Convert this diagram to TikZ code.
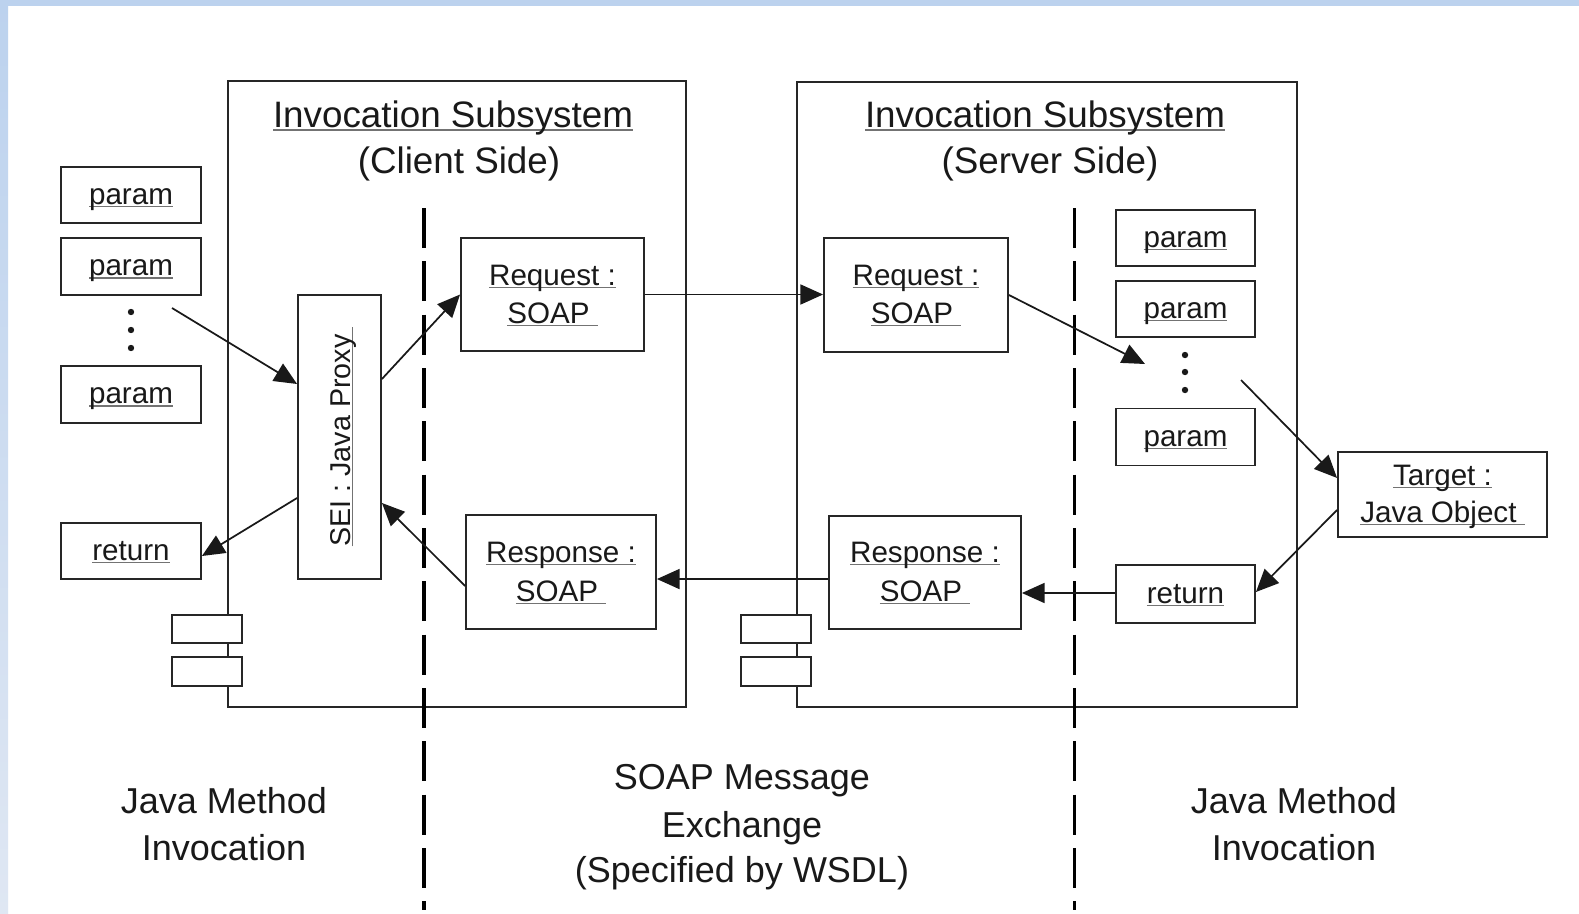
\documentclass[tikz,border=0pt]{standalone}
\usepackage{fontspec}
\setmainfont{Liberation Sans}
\usetikzlibrary{arrows.meta,calc}
\definecolor{bandtop}{HTML}{BCD2EE}
\definecolor{bandbot}{HTML}{DFE7F3}
\newsavebox\ulbox
\newcommand\ulx[1]{\sbox\ulbox{#1}\rlap{\color{black!55}\rule[-0.11em]{\wd\ulbox}{0.05em}}\usebox\ulbox}
\begin{document}
\begin{tikzpicture}[x=0.75pt,y=-0.75pt,
  box/.style={draw=black!85, line width=1.4pt, fill=white, inner sep=0pt},
  sz/.style 2 args={minimum width=#1*0.75pt, minimum height=#2*0.75pt},
  small/.style={font=\fontsize{22.2}{26}\selectfont, text=black!90, anchor=base, inner sep=0pt},
  big/.style={font=\fontsize{27.6}{32}\selectfont, text=black!90, anchor=base, inner sep=0pt},
  lab/.style={font=\fontsize{27}{32}\selectfont, text=black!90, anchor=base, inner sep=0pt},
  arr/.style={draw=black!90, line width=1.3pt, -{Triangle[length=17pt,width=15pt]}},
  sepline/.style={draw=black, line width=2.7pt, dash pattern=on 30pt off 10pt},
  comp/.style={draw=black!85, line width=1.4pt, fill=white}]
% background
\useasboundingbox (0,0) rectangle (1579,914);
\fill[white] (0,0) rectangle (1579,914);
\fill[bandtop] (0,0) rectangle (1579,6);
\shade[top color=bandtop, bottom color=bandbot] (0,0) rectangle (8,914);
% subsystem boxes
\node[box, sz={458}{626}] (cli) at (457,394) {};
\node[box, sz={500}{625}] (srv) at (1047,394.5) {};
% dashed separators
\coordinate (dA1) at (424,208); \coordinate (dA2) at (424,910);
\coordinate (dB1) at (1074.5,208); \coordinate (dB2) at (1074.5,910);
\draw[sepline] (dA1) -- (dA2);
\draw[sepline] (dB1) -- (dB2);
% component icons
\draw[comp] (172,615) rectangle (242,643);
\draw[comp] (172,657) rectangle (242,686);
\draw[comp] (741,615) rectangle (811,643);
\draw[comp] (741,657) rectangle (811,686);
% titles
\node[big] at (453,127) {\ulx{Invocation Subsystem}};
\node[big] at (459,173) {(Client Side)};
\node[big] at (1045,127) {\ulx{Invocation Subsystem}};
\node[big] at (1050,173) {(Server Side)};
% left params
\node[box, sz={140}{56}] (p1) at (131,195) {};
\node[box, sz={140}{57}] (p2) at (131,266.5) {};
\node[box, sz={140}{57}] (p3) at (131,394.5) {};
\node[box, sz={140}{56}] (retL) at (131,551) {};
\node[small] at (131,204) {\ulx{param}};
\node[small] at (131,275.5) {\ulx{param}};
\node[small] at (131,403.5) {\ulx{param}};
\node[small] at (131,560) {\ulx{return}};
\fill[black!90] (131,312) circle[radius=2.4pt] (131,330) circle[radius=2.4pt] (131,348) circle[radius=2.4pt];
% SEI proxy
\node[box, sz={83}{284}] (sei) at (339.5,437) {};
\node[small, rotate=90, font=\fontsize{21.5}{26}\selectfont] at (350,436.5) {\ulx{SEI : Java Proxy\ }};
% client messages
\node[box, sz={183}{113}] (reqC) at (552.5,294.5) {};
\node[small] at (552.5,285) {\ulx{Request :}};
\node[small] at (552.5,323) {\ulx{SOAP\ }};
\node[box, sz={190}{114}] (resC) at (561,572) {};
\node[small] at (561,562) {\ulx{Response :}};
\node[small] at (561,601) {\ulx{SOAP\ }};
% server messages
\node[box, sz={184}{114}] (reqS) at (916,295) {};
\node[small] at (916,285) {\ulx{Request :}};
\node[small] at (916,323) {\ulx{SOAP\ }};
\node[box, sz={192}{113}] (resS) at (925,572.5) {};
\node[small] at (925,562) {\ulx{Response :}};
\node[small] at (925,601) {\ulx{SOAP\ }};
% right params
\node[box, sz={139}{56}] (q1) at (1185.5,238) {};
\node[box, sz={139}{56}] (q2) at (1185.5,309) {};
\node[box, sz={139}{57}] (q3) at (1185.5,437) {};
\node[box, sz={139}{58}] (retR) at (1185.5,594) {};
\node[small] at (1185.5,247) {\ulx{param}};
\node[small] at (1185.5,318) {\ulx{param}};
\node[small] at (1185.5,446) {\ulx{param}};
\node[small] at (1185.5,603) {\ulx{return}};
\fill[black!90] (1185,355) circle[radius=2.4pt] (1185,372) circle[radius=2.4pt] (1185,390) circle[radius=2.4pt];
% target
\node[box, sz={209}{85}] (tgt) at (1442.5,494.5) {};
\node[small] at (1442.5,485) {\ulx{Target :}};
\node[small] at (1442.5,522) {\ulx{Java Object\ }};
% free ends
\coordinate (fromL) at (172,308);
\coordinate (toDots) at (1145,364);
\coordinate (fromDots) at (1241,380);
% connectors
\draw[arr] (fromL) -- ([yshift=39.75pt]sei.west);
\draw[arr] ([yshift=43.5pt]sei.east) -- (reqC.west);
\draw[arr] (reqC.east) -- (reqC.east -| reqS.west);
\draw[arr] (reqS.east) -- (toDots);
\draw[arr] (fromDots) -- ([yshift=12.4pt]tgt.west);
\draw[arr] ([yshift=-11.6pt]tgt.west) -- ([yshift=1.5pt]retR.east);
\draw[arr] ([yshift=0.75pt]retR.west) -- ([yshift=0.75pt]retR.west -| resS.east);
\draw[arr] ([yshift=-4.9pt]resS.west) -- ([yshift=-4.9pt]resS.west -| resC.east);
\draw[arr] ([yshift=-10.5pt]resC.west) -- ([yshift=-49.5pt]sei.east);
\draw[arr] ([yshift=-45.75pt]sei.west) -- ([yshift=-3.75pt]retL.east);
% bottom labels
\node[lab] at (224,813) {Java Method};
\node[lab] at (224,860) {Invocation};
\node[lab] at (742,789) {SOAP Message};
\node[lab] at (742,837) {Exchange};
\node[lab] at (742,882) {(Specified by WSDL)};
\node[lab] at (1294,813) {Java Method};
\node[lab] at (1294,860) {Invocation};
\end{tikzpicture}
\end{document}
